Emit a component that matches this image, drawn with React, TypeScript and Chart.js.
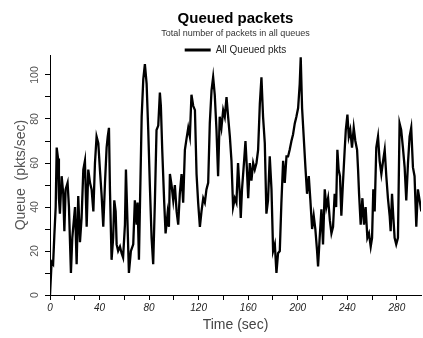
import { useEffect, useRef } from 'react';
import { Chart, registerables } from 'chart.js';

Chart.register(...registerables);

const TIME_SEC = [
  0, 1.3, 2.5, 3.5, 4.6, 5.4, 6.5, 7.2, 8, 9.4, 10.7, 11.6, 12.6, 14.2, 15.3, 16.9, 18, 20.2, 21.5, 22.8,
  24.2, 25.5, 26.9, 28.2, 29.6, 30.9, 32.3, 33.6, 35, 36.3, 37.6, 39, 40.3, 41.7, 43, 44.4, 45.7, 46.6, 47.6, 48.4,
  49.7, 51, 51.9, 53, 53.8, 55, 56.5, 57.8, 59, 60.5, 61.3, 62.6, 63.7, 65.3, 67.2, 68.5, 69.9, 70.7, 71.8, 72.6,
  74, 75.3, 76.6, 78, 79.3, 80.6, 82, 83.3, 84.7, 86, 87.4, 88.7, 89.5, 90.6, 92.2, 93.3, 94.9, 96, 96.8, 98.1,
  99.5, 100.8, 102.2, 103.5, 104.8, 106.2, 107.5, 108.9, 110.2, 111.6, 112.9, 114.2, 115.6, 117, 118.3, 119.6, 121, 122.3, 123.7, 125,
  126.3, 127.7, 129, 130.4, 131.7, 133, 134.4, 135.7, 137, 138.4, 139.8, 141.1, 142.5, 143.8, 145.2, 146.5, 147.8, 149.2, 150.5, 151.8,
  153.2, 154, 155, 156.7, 157.8, 158.9, 160, 161.3, 162.6, 164, 165.3, 166.7, 168, 169.4, 170.7, 172, 173.4, 174.7, 176, 177.4,
  178.8, 180.1, 181.5, 182.8, 184.1, 185.5, 186.8, 188.2, 189.5, 190.9, 192.2, 193.5, 194.9, 196.2, 197.6, 198.9, 200.3, 201.6, 202.4, 203.5,
  205.1, 206.2, 207.5, 208.9, 210.2, 211.6, 212.9, 214.2, 215.6, 216.4, 217.7, 219.1, 220.4, 221.8, 223.1, 224.5, 225.9, 227.2, 228.5, 229.8,
  231, 232, 233, 234.1, 235.2, 236.5, 237.9, 238.8, 240.1, 241.2, 242.4, 243.8, 245.2, 246.5, 247.9, 248.7, 249.5, 250.8, 252.2, 253.5,
  254.8, 256.2, 257.5, 258.9, 260, 261, 262.1, 263.4, 264.8, 266.1, 267.5, 268.9, 270.2, 271.5, 272.8, 274.2, 275, 276.1, 277.1, 278.2,
  279.5, 280.9, 282.2, 283.5, 284.9, 286.3, 287.6, 289, 290.3, 291.6, 293, 294.3, 295.7, 297, 298.4, 299.7,
];

const QUEUED_PKTS = [
  0, 15, 14, 27, 40, 67, 62, 44, 37, 54, 46, 29, 48, 51, 40, 10, 26, 40, 14, 45,
  24, 35, 57, 61, 31, 57, 51, 48, 38, 60, 72, 69, 57, 45, 31, 51, 67, 72, 76, 48,
  16, 26, 43, 38, 23, 20, 22, 19, 17, 32, 57, 32, 10, 20, 23, 43, 32, 42, 16, 40,
  81, 98, 105, 96, 75, 50, 26, 14, 43, 75, 77, 92, 86, 66, 42, 28, 37, 31, 55, 50,
  43, 50, 38, 32, 46, 55, 42, 66, 71, 76, 72, 91, 86, 84, 55, 42, 31, 38, 44, 42,
  48, 51, 78, 93, 99, 91, 75, 54, 81, 76, 84, 81, 90, 81, 72, 61, 40, 44, 42, 60,
  46, 35, 48, 61, 70, 58, 44, 60, 52, 60, 57, 60, 66, 87, 99, 81, 69, 37, 43, 63,
  48, 20, 23, 10, 19, 20, 42, 61, 51, 63, 63, 66, 70, 73, 78, 81, 85, 96, 108, 85,
  69, 58, 46, 54, 43, 30, 36, 30, 20, 13, 26, 39, 23, 48, 40, 44, 34, 28, 31, 46,
  40, 66, 57, 54, 36, 51, 66, 75, 82, 72, 75, 67, 76, 70, 66, 57, 46, 32, 44, 32,
  40, 26, 28, 22, 26, 48, 38, 67, 72, 61, 55, 61, 66, 54, 44, 36, 29, 46, 36, 26,
  23, 26, 78, 75, 67, 58, 43, 60, 72, 76, 58, 54, 31, 48, 43, 38,
];

const X_MIN = 0;
const X_MAX = 299.5;
const X_TICK_STEP = 20;
const X_LABEL_STEP = 40;
const Y_MIN = 0;
const Y_MAX = 109;
const Y_TICK_STEP = 10;
const Y_LABEL_STEP = 20;

const TITLE = 'Queued packets';
const SUBTITLE = 'Total number of packets in all queues';
const SERIES_LABEL = 'All Queued pkts';
const X_TITLE = 'Time (sec)';
const Y_TITLE = 'Queue  (pkts/sec)';

const FONT = "'Liberation Sans', Arial, Helvetica, sans-serif";

export default function App() {
  const ref = useRef<HTMLCanvasElement | null>(null);

  useEffect(() => {
    document.body.style.margin = '0';
    const canvas = ref.current;
    if (!canvas) return;
    Chart.defaults.font.family = FONT;

    const legendFitPatch = {
      id: 'legendFitPatch',
      beforeLayout(chart: any) {
        const lg = chart.legend;
        if (lg && !lg._patched) {
          const orig = lg.fit;
          lg.fit = function (this: any) {
            orig.call(this);
            this.height = 16.4;
          };
          lg._patched = true;
        }
      },
    };

    const chart = new Chart(canvas, {
      type: 'line',
      data: {
        datasets: [
          {
            label: SERIES_LABEL,
            data: TIME_SEC.map((t, i) => ({ x: t, y: QUEUED_PKTS[i] })),
            borderColor: '#000',
            backgroundColor: '#000',
            borderWidth: 2.3,
            pointRadius: 0,
            tension: 0,
          },
        ],
      },
      options: {
        responsive: false,
        animation: false,
        events: [],
        layout: { padding: { left: 0, right: 2, top: 0, bottom: 0 } },
        plugins: {
          title: {
            display: true,
            text: TITLE,
            fullSize: false,
            color: '#000',
            font: { family: FONT, size: 15, weight: 'bold' },
            padding: { top: 10, bottom: 0 },
          },
          subtitle: {
            display: true,
            text: SUBTITLE,
            fullSize: false,
            color: '#333',
            font: { family: FONT, size: 9 },
            padding: { top: 0, bottom: 0 },
          },
          legend: {
            display: true,
            position: 'top',
            fullSize: false,
            labels: {
              boxWidth: 26,
              boxHeight: 3,
              padding: 6.2,
              color: '#222',
              font: { family: FONT, size: 10 },
              generateLabels: (c: any) =>
                c.data.datasets.map((ds: any, i: number) => ({
                  text: ds.label,
                  fillStyle: '#000',
                  strokeStyle: '#000',
                  lineWidth: 0,
                  hidden: false,
                  datasetIndex: i,
                  fontColor: '#222',
                })),
            },
          },
          tooltip: { enabled: false },
        },
        scales: {
          x: {
            type: 'linear',
            min: X_MIN,
            max: X_MAX,
            afterFit: (s: any) => {
              s.height = 43;
            },
            border: { display: true, color: '#000', width: 1 },
            grid: { display: true, drawOnChartArea: false, drawTicks: true, tickLength: 5, color: '#000', lineWidth: 1 },
            ticks: {
              stepSize: X_TICK_STEP,
              includeBounds: false,
              autoSkip: false,
              maxRotation: 0,
              padding: 2,
              color: '#222',
              font: { family: FONT, size: 10, style: 'italic' },
              callback: (v: any) => (Number(v) % X_LABEL_STEP === 0 ? String(v) : ''),
            },
            title: {
              display: true,
              text: X_TITLE,
              color: '#444',
              font: { family: FONT, size: 14 },
              padding: { top: 0, bottom: 4 },
            },
          },
          y: {
            type: 'linear',
            min: Y_MIN,
            max: Y_MAX,
            afterFit: (s: any) => {
              s.width = 50;
            },
            border: { display: true, color: '#000', width: 1 },
            grid: { display: true, drawOnChartArea: false, drawTicks: true, tickLength: 5, color: '#000', lineWidth: 1 },
            ticks: {
              stepSize: Y_TICK_STEP,
              includeBounds: false,
              minRotation: 90,
              maxRotation: 90,
              crossAlign: 'center',
              padding: 1,
              color: '#555',
              font: { family: FONT, size: 10.5 },
              callback: (v: any) => (Number(v) % Y_LABEL_STEP === 0 ? String(v) : ''),
            },
            title: {
              display: true,
              text: Y_TITLE,
              color: '#555',
              font: { family: FONT, size: 14 },
              padding: { top: 12.6, bottom: 0 },
            },
          },
        },
      } as any,
      plugins: [legendFitPatch],
    });

    return () => chart.destroy();
  }, []);

  return <canvas ref={ref} width={423} height={338} style={{ display: 'block', width: 423, height: 338 }} />;
}
